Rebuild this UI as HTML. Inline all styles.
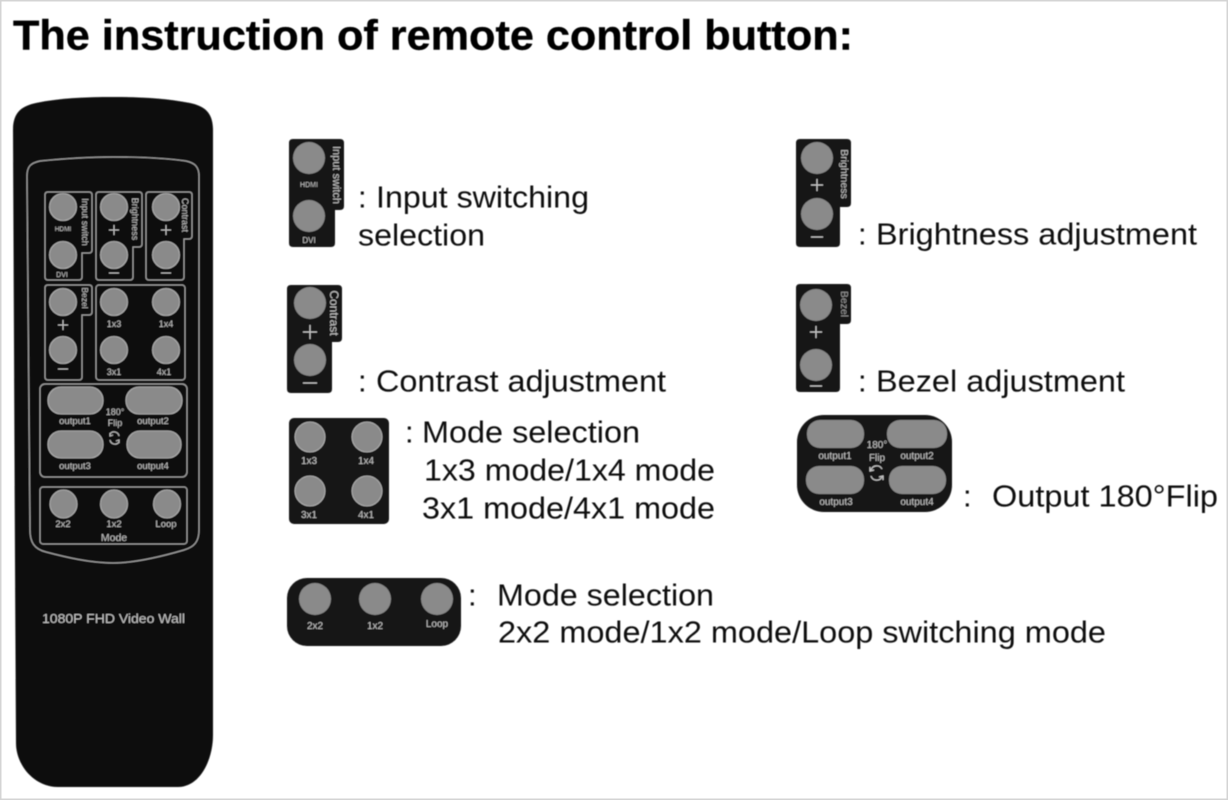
<!DOCTYPE html>
<html><head><meta charset="utf-8"><style>
html,body{margin:0;padding:0;background:#fff;width:1228px;height:800px;overflow:hidden}
svg{display:block}
text{font-family:"Liberation Sans",sans-serif}
.m{font-size:31px;fill:#111}
.w{fill:#c2c2c2;text-anchor:middle}
</style></head><body>
<svg width="1228" height="800" viewBox="0 0 1228 800" xmlns="http://www.w3.org/2000/svg">
<defs>
<filter id="b" x="-2%" y="-2%" width="104%" height="104%"><feGaussianBlur stdDeviation="0.55"/></filter>
</defs>
<rect width="1228" height="800" fill="#fff"/>
<rect x="0.75" y="0.75" width="1226.5" height="798.5" fill="none" stroke="#d4d4d4" stroke-width="1.5"/>
<g filter="url(#b)">
<text x="13" y="49.5" font-size="42" font-weight="bold" fill="#000" stroke="#000" stroke-width="0.4" textLength="840" lengthAdjust="spacingAndGlyphs">The instruction of remote control button:</text>

<!-- Remote -->
<path d="M13 130 C13 112 22 106 36 103 C60 98 85 97 113 97 C140 97 165 98 190 103 C204 106 213 112 213 130 L213 735 C213 760 200 787 178 787 L58 787 C34 787 16 765 16 743 L15 560 Z" fill="#0a0a0a"/>
<g fill="none" stroke="#a0a0a0" stroke-width="1.2">
<path d="M27 176 C27 166 31 163 40 161 C70 158 90 157 113 157 C140 157 165 158 186 161 C195 163 199 167 199 176 L199 530 C199 542 194 547 184 550 C160 557 135 563 113 563 C90 563 65 557 46 552 C34 549 30 542 30 530 Z"/>
<path d="M48 192 L89 192 Q92 192 92 195 L92 250 Q92 253 89 253 L82 253 L82 277 Q82 280 79 280 L48 280 Q45 280 45 277 L45 195 Q45 192 48 192Z"/>
<path d="M99 192 L139 192 Q142 192 142 195 L142 244 Q142 247 139 247 L133 247 L133 277 Q133 280 130 280 L99 280 Q96 280 96 277 L96 195 Q96 192 99 192Z"/>
<path d="M149 192 L189 192 Q192 192 192 195 L192 236 Q192 239 189 239 L184 239 L184 277 Q184 280 181 280 L149 280 Q146 280 146 277 L146 195 Q146 192 149 192Z"/>
<path d="M48 285 L89 285 Q92 285 92 288 L92 312 Q92 315 89 315 L82 315 L82 377 Q82 380 79 380 L48 380 Q45 380 45 377 L45 288 Q45 285 48 285Z"/>
<rect x="96" y="285" width="89" height="95" rx="3"/>
<rect x="40" y="384" width="147" height="93" rx="5"/>
<rect x="40" y="487" width="147" height="57" rx="3"/>
</g>
<g fill="#8a8a8a" stroke="#bdbdbd" stroke-width="0.8">
<circle cx="63" cy="207" r="13.5"/><circle cx="63" cy="255" r="13.5"/>
<circle cx="114" cy="207" r="13.5"/><circle cx="114" cy="255" r="13.5"/>
<circle cx="166" cy="207" r="13.5"/><circle cx="166" cy="255" r="13.5"/>
<circle cx="63" cy="302" r="13.5"/><circle cx="63" cy="350" r="13.5"/>
<circle cx="114" cy="302" r="13.5"/><circle cx="166" cy="302" r="13.5"/>
<circle cx="114" cy="350" r="13.5"/><circle cx="166" cy="350" r="13.5"/>
<rect x="48" y="387" width="55" height="27" rx="13"/>
<rect x="126" y="387" width="56" height="27" rx="13"/>
<rect x="48" y="431" width="55" height="27" rx="13"/>
<rect x="127" y="431" width="54" height="27" rx="13"/>
<ellipse cx="63.5" cy="504" rx="13.5" ry="14"/>
<ellipse cx="114" cy="504" rx="13.5" ry="14"/>
<ellipse cx="167" cy="504" rx="13.5" ry="14"/>
</g>
<g>
<text x="63" y="231" font-size="6.5" class="w">HDMI</text>
<text x="62" y="277" font-size="7" class="w">DVI</text>
<text x="114" y="327" font-size="9" class="w">1x3</text>
<text x="166" y="327" font-size="9" class="w">1x4</text>
<text x="114" y="375" font-size="9" class="w">3x1</text>
<text x="164" y="375" font-size="9" class="w">4x1</text>
<text x="75" y="424" font-size="9.5" class="w">output1</text>
<text x="153" y="424" font-size="9.5" class="w">output2</text>
<text x="75" y="469" font-size="9.5" class="w">output3</text>
<text x="153" y="469" font-size="9.5" class="w">output4</text>
<text x="115" y="415" font-size="9" class="w">180°</text>
<text x="115" y="426" font-size="9" class="w">Flip</text>
<text x="63" y="527" font-size="9.5" class="w">2x2</text>
<text x="114" y="527" font-size="9.5" class="w">1x2</text>
<text x="166" y="527" font-size="9.5" class="w">Loop</text>
<text x="114" y="541" font-size="10.5" class="w">Mode</text>
<text x="113.5" y="623" font-size="13" class="w" textLength="143" lengthAdjust="spacingAndGlyphs">1080P FHD Video Wall</text>
<text transform="translate(82,222) rotate(90)" font-size="9" class="w">Input switch</text>
<text transform="translate(132,219) rotate(90)" font-size="9" class="w">Brightness</text>
<text transform="translate(182,215) rotate(90)" font-size="9" class="w">Contrast</text>
<text transform="translate(82,298) rotate(90)" font-size="8.5" class="w">Bezel</text>
</g>
<g stroke="#bdbdbd" stroke-width="1.1" fill="none">
<path d="M114 225v10M109 230h10M109 273h10M166 225v10M161 230h10M161 273h10M63 320v10M58 325h10M58 369h10"/>
<path d="M119 436a5 5 0 0 0-9-2M110 433l0 3 3-1M110 440a5 5 0 0 0 9 2M119 443l0-3-3 1"/>
</g>

<!-- Input panel -->
<path d="M293 139 L340 139 Q344 139 344 143 L344 206 Q344 210 340 210 L335 210 L335 243 Q335 247 331 247 L293 247 Q289 247 289 243 L289 143 Q289 139 293 139Z" fill="#141414"/>
<circle cx="309" cy="158" r="16" fill="#8a8a8a"/><circle cx="309" cy="216" r="16" fill="#8a8a8a"/>
<text x="309" y="187" font-size="7" class="w">HDMI</text>
<text x="309" y="243" font-size="8" class="w">DVI</text>
<text transform="translate(333,175) rotate(90)" font-size="11" class="w">Input switch</text>

<!-- Contrast panel -->
<path d="M291 285 L338 285 Q342 285 342 289 L342 338 Q342 342 338 342 L332 342 L332 389 Q332 393 328 393 L291 393 Q287 393 287 389 L287 289 Q287 285 291 285Z" fill="#141414"/>
<circle cx="310" cy="303" r="16" fill="#8a8a8a"/><circle cx="310" cy="360" r="16" fill="#8a8a8a"/>
<text transform="translate(330,313) rotate(90)" font-size="12" class="w">Contrast</text>
<path d="M310 325v14M303 332h14M303 383h14" stroke="#c8c8c8" stroke-width="1.2" fill="none"/>

<!-- Brightness panel -->
<path d="M800 139 L847 139 Q851 139 851 143 L851 203 Q851 207 847 207 L840 207 L840 243 Q840 247 836 247 L800 247 Q796 247 796 243 L796 143 Q796 139 800 139Z" fill="#141414"/>
<circle cx="817" cy="158" r="16" fill="#8a8a8a"/><circle cx="817" cy="214" r="16" fill="#8a8a8a"/>
<text transform="translate(841,174) rotate(90)" font-size="10.5" class="w">Brightness</text>
<path d="M817 179v12M811 185h12M811 237h12" stroke="#c8c8c8" stroke-width="1.2" fill="none"/>

<!-- Bezel panel -->
<path d="M800 284 L847 284 Q851 284 851 288 L851 320 Q851 324 847 324 L840 324 L840 388 Q840 392 836 392 L800 392 Q796 392 796 388 L796 288 Q796 284 800 284Z" fill="#141414"/>
<circle cx="816" cy="305" r="16" fill="#8a8a8a"/><circle cx="816" cy="365" r="16" fill="#8a8a8a"/>
<text transform="translate(841,304) rotate(90)" font-size="10.5" fill="#9a9a9a" text-anchor="middle">Bezel</text>
<path d="M816 326v12M810 332h12M810 386h12" stroke="#c8c8c8" stroke-width="1.2" fill="none"/>

<!-- Mode 4 -->
<rect x="289" y="418" width="100" height="106" rx="5" fill="#141414"/>
<g fill="#8a8a8a" stroke="#bdbdbd" stroke-width="0.8">
<circle cx="310" cy="437" r="15"/><circle cx="367" cy="437" r="15"/><circle cx="310" cy="491" r="15"/><circle cx="367" cy="491" r="15"/>
</g>
<text x="309" y="464" font-size="10" class="w">1x3</text><text x="366" y="464" font-size="10" class="w">1x4</text>
<text x="309" y="518" font-size="10" class="w">3x1</text><text x="366" y="518" font-size="10" class="w">4x1</text>

<!-- Mode 3 -->
<rect x="287" y="578" width="174" height="68" rx="20" fill="#141414"/>
<g fill="#8a8a8a"><circle cx="315" cy="599" r="16"/><circle cx="375" cy="599" r="16"/><circle cx="437" cy="599" r="16"/></g>
<text x="315" y="629" font-size="10" class="w">2x2</text><text x="375" y="629" font-size="10" class="w">1x2</text><text x="437" y="627" font-size="10" class="w">Loop</text>

<!-- Flip -->
<rect x="797" y="415" width="155" height="97" rx="27" fill="#141414"/>
<g fill="#8a8a8a">
<rect x="807" y="420" width="57" height="28" rx="13"/><rect x="887" y="420" width="60" height="28" rx="13"/>
<rect x="806" y="466" width="58" height="28" rx="13"/><rect x="889" y="466" width="57" height="28" rx="13"/>
</g>
<text x="835" y="459" font-size="10" class="w">output1</text><text x="917" y="459" font-size="10" class="w">output2</text>
<text x="836" y="505" font-size="10" class="w">output3</text><text x="917" y="505" font-size="10" class="w">output4</text>
<text x="877" y="448" font-size="10" class="w">180°</text><text x="877" y="461" font-size="10" class="w">Flip</text>
<path d="M882 469a6 6 0 0 0-11 1M870 467l0 4 4-1M871 476a6 6 0 0 0 11 1M883 480l0-4-4 1" stroke="#c8c8c8" stroke-width="1.2" fill="none"/>

<!-- Labels -->
<g>
<text x="358" y="207.5" class="m">:</text><text x="376" y="207.5" class="m" textLength="213" lengthAdjust="spacingAndGlyphs">Input switching</text>
<text x="358" y="245.5" class="m" textLength="127" lengthAdjust="spacingAndGlyphs">selection</text>
<text x="858" y="244.5" class="m">:</text><text x="876" y="244.5" class="m" textLength="321" lengthAdjust="spacingAndGlyphs">Brightness adjustment</text>
<text x="358" y="391.5" class="m">:</text><text x="376" y="391.5" class="m" textLength="290" lengthAdjust="spacingAndGlyphs">Contrast adjustment</text>
<text x="858" y="391.5" class="m">:</text><text x="876" y="391.5" class="m" textLength="249" lengthAdjust="spacingAndGlyphs">Bezel adjustment</text>
<text x="405" y="442.5" class="m">:</text><text x="422" y="442.5" class="m" textLength="218" lengthAdjust="spacingAndGlyphs">Mode selection</text>
<text x="424" y="480.5" class="m" textLength="291" lengthAdjust="spacingAndGlyphs">1x3 mode/1x4 mode</text>
<text x="422" y="518.5" class="m" textLength="293" lengthAdjust="spacingAndGlyphs">3x1 mode/4x1 mode</text>
<text x="963" y="506.5" class="m">:</text><text x="992" y="506.5" class="m" textLength="226" lengthAdjust="spacingAndGlyphs">Output 180°Flip</text>
<text x="468" y="605.5" class="m">:</text><text x="497" y="605.5" class="m" textLength="217" lengthAdjust="spacingAndGlyphs">Mode selection</text>
<text x="498" y="642.5" class="m" textLength="608" lengthAdjust="spacingAndGlyphs">2x2 mode/1x2 mode/Loop switching mode</text>
</g>
</g>
</svg>
</body></html>
